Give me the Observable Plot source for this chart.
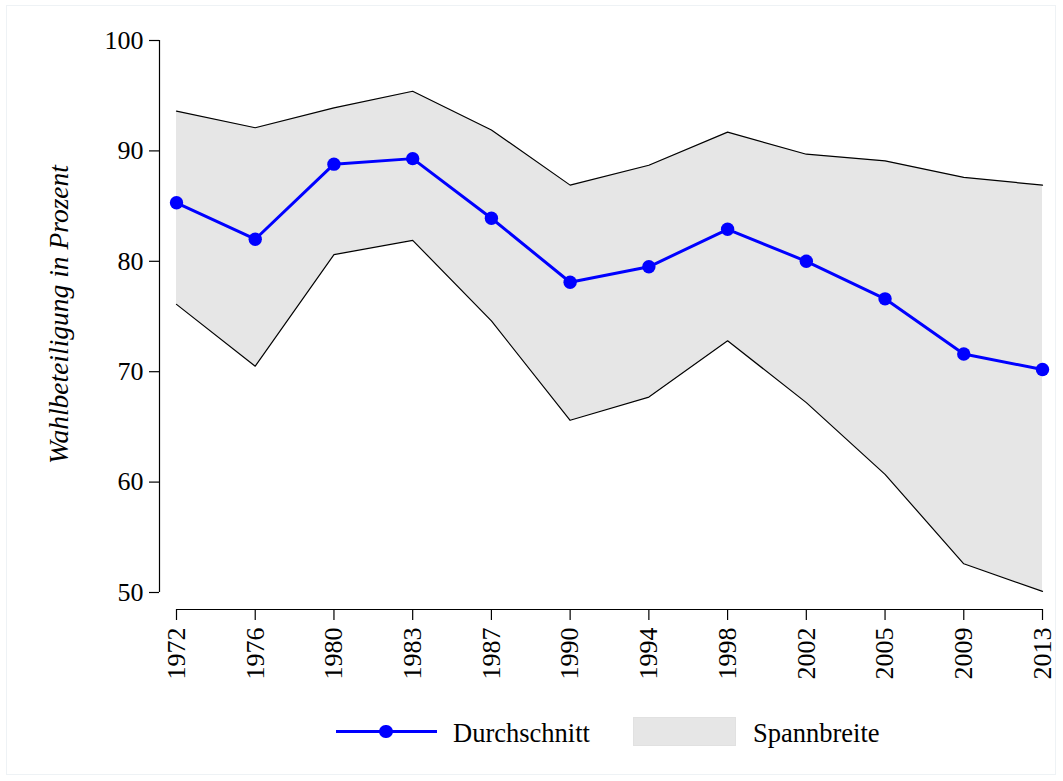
<!DOCTYPE html>
<html>
<head>
<meta charset="utf-8">
<script src="https://cdn.jsdelivr.net/npm/d3@7"></script>
<script src="https://cdn.jsdelivr.net/npm/@observablehq/plot@0.6"></script>
<style>
  html, body { margin: 0; padding: 0; background: white; }
  #wrap { position: relative; width: 1063px; height: 781px; font-family: "Liberation Serif", serif; }
  #border { position: absolute; left: 6px; top: 5px; width: 1050px; height: 770px; border: 1px solid #eef2f5; box-sizing: border-box; pointer-events: none; }
  #chart { position: absolute; left: 0; top: 0; }
  .leg { position: absolute; font-size: 26.5px; color: #000; line-height: 1; white-space: nowrap; }
</style>
</head>
<body>
<div id="wrap">
  <div id="border"></div>
  <div id="chart"></div>
  <div id="legend"></div>
</div>
<script>
const years = ["1972","1976","1980","1983","1987","1990","1994","1998","2002","2005","2009","2013"];
const meanValues = [85.3, 82.0, 88.8, 89.3, 83.9, 78.1, 79.5, 82.9, 80.0, 76.6, 71.6, 70.2];
const maxValues  = [93.6, 92.1, 93.9, 95.4, 91.9, 86.9, 88.7, 91.7, 89.7, 89.1, 87.6, 86.9];
const minValues  = [76.1, 70.5, 80.6, 81.9, 74.6, 65.6, 67.7, 72.8, 67.2, 60.7, 52.6, 50.1];
const yTicks = [50, 60, 70, 80, 90, 100];
const yLabel = "Wahlbeteiligung in Prozent";
const legendLabels = ["Durchschnitt", "Spannbreite"];

const data = years.map((y, i) => ({year: y, mean: meanValues[i], hi: maxValues[i], lo: minValues[i]}));

const chart = Plot.plot({
  width: 1063,
  height: 700,
  marginLeft: 176,
  marginRight: 21,
  marginTop: 40,
  marginBottom: 108,
  style: {fontFamily: "Liberation Serif, serif", fontSize: "26px", background: "transparent", color: "black"},
  x: {type: "point", domain: years, padding: 0, round: false, label: null},
  y: {domain: [50, 100], label: null},
  marks: [
    Plot.areaY(data, {x: "year", y1: "lo", y2: "hi", fill: "#e6e6e6"}),
    Plot.lineY(data, {x: "year", y: "hi", stroke: "black", strokeWidth: 1.2}),
    Plot.lineY(data, {x: "year", y: "lo", stroke: "black", strokeWidth: 1.2}),
    Plot.lineY(data, {x: "year", y: "mean", stroke: "#0000ff", strokeWidth: 3}),
    Plot.dot(data, {x: "year", y: "mean", r: 6.7, fill: "#0000ff", stroke: null}),
    Plot.ruleX([years[0]], {x: d => d, y1: () => 50, y2: () => 100, dx: -17, stroke: "black", strokeWidth: 1.2}),
    Plot.axisY({ticks: yTicks, tickSize: 10, tickPadding: 6, dx: -17, label: null, fontSize: 26, stroke: "black", strokeWidth: 1.2}),
    Plot.ruleY([50], {y: d => d, x1: () => years[0], x2: () => years[years.length - 1], dy: 17, stroke: "black", strokeWidth: 1.2}),
    Plot.axisX({tickRotate: -90, tickSize: 11, tickPadding: 7, dy: 17, label: null, fontSize: 26, stroke: "black", strokeWidth: 1.2}),
    Plot.text([yLabel], {text: d => d, frameAnchor: "left", textAnchor: "middle", rotate: -90, dx: -117, dy: -2, fontStyle: "italic", fontSize: 27.5, fill: "black"})
  ]
});
document.getElementById("chart").appendChild(chart);

const legend = document.getElementById("legend");
legend.innerHTML = `
  <div style="position:absolute;left:336px;top:730px;width:101px;height:3px;background:#0000ff;"></div>
  <div style="position:absolute;left:379.3px;top:724.8px;width:13.4px;height:13.4px;border-radius:50%;background:#0000ff;"></div>
  <div class="leg" style="left:453px;top:720px;">${legendLabels[0]}</div>
  <div style="position:absolute;left:633px;top:717px;width:103px;height:29px;background:#e6e6e6;border:1px solid #e1e1e1;box-sizing:border-box;"></div>
  <div class="leg" style="left:753px;top:720px;">${legendLabels[1]}</div>
`;
</script>
</body>
</html>
